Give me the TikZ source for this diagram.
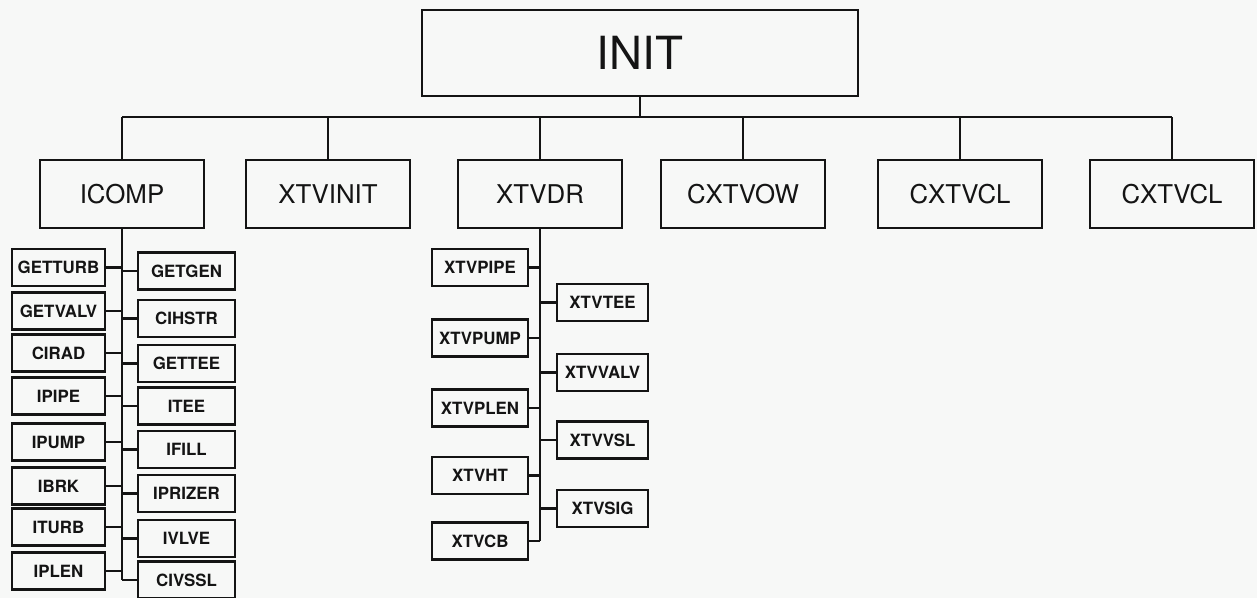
\documentclass[tikz,border=0pt]{standalone}
\usepackage{fontspec}
\setmainfont{TeX Gyre Heros}
\definecolor{chink}{HTML}{141414}
\definecolor{chpaper}{HTML}{F7F8F7}
\tikzset{
  topbox/.style={draw=chink,line width=1.2pt,minimum width=8.72cm,minimum height=1.72cm,
              inner sep=0pt,font=\fontsize{26}{28}\selectfont,text=chink},
  modbox/.style={draw=chink,line width=1.2pt,minimum width=3.28cm,minimum height=1.36cm,
              inner sep=0pt,font=\fontsize{14.7}{16}\selectfont,text=chink},
  subbox/.style={draw=chink,line width=1.2pt,minimum height=0.74cm,
              inner sep=0pt,font=\fontsize{9.6}{11}\selectfont\bfseries,text=chink},
  lcol/.style={subbox,minimum width=1.86cm},
  rcol/.style={subbox,minimum width=1.94cm},
  xlcol/.style={subbox,minimum width=1.92cm},
  xrcol/.style={subbox,minimum width=1.82cm},
  link/.style={draw=chink,line width=1.2pt},
}

\begin{document}
\begin{tikzpicture}[x=0.02cm,y=-0.02cm]
  \path[use as bounding box,fill=chpaper] (0,0) rectangle (1257,598);

  % ================= top level =================
  \node[topbox] (init) at (640,53) {INIT};
  \coordinate (bus) at (0,117);

  \node[modbox] (icomp)   at (122,194)  {ICOMP};
  \node[modbox] (xtvinit) at (328,194)  {XTVINIT};
  \node[modbox] (xtvdr)   at (540,194)  {XTVDR};
  \node[modbox] (cxtvow)  at (743,194)  {CXTVOW};
  \node[modbox] (cxtvcl)  at (960,194)  {CXTVCL};
  \node[modbox] (cxtvclb) at (1172,194) {CXTVCL};

  \draw[link] (init.south) -- (init.south |- bus);
  \draw[link] (icomp.north |- bus) -- (cxtvclb.north |- bus);
  \foreach \m in {icomp,xtvinit,xtvdr,cxtvow,cxtvcl,cxtvclb}
    \draw[link] (\m.north) -- (\m.north |- bus);

  % ================= ICOMP branch =================
  \node[lcol] (getturb) at (58.5,267.5) {GETTURB};
  \node[lcol] (getvalv) at (58.5,311)   {GETVALV};
  \node[lcol] (cirad)   at (58.5,353)   {CIRAD};
  \node[lcol] (ipipe)   at (58.5,396)   {IPIPE};
  \node[lcol] (ipump)   at (58.5,442)   {IPUMP};
  \node[lcol] (ibrk)    at (58.5,486)   {IBRK};
  \node[lcol] (iturb)   at (58.5,527)   {ITURB};
  \node[lcol] (iplen)   at (58.5,571)   {IPLEN};

  \node[rcol] (getgen)  at (186.5,271)  {GETGEN};
  \node[rcol] (cihstr)  at (186.5,318.5){CIHSTR};
  \node[rcol] (gettee)  at (186.5,363.5){GETTEE};
  \node[rcol] (itee)    at (186.5,406)  {ITEE};
  \node[rcol] (ifill)   at (186.5,449.5){IFILL};
  \node[rcol] (iprizer) at (186.5,493.5){IPRIZER};
  \node[rcol] (ivlve)   at (186.5,538.5){IVLVE};
  \node[rcol] (civssl)  at (186.5,580)  {CIVSSL};

  \draw[link] (icomp.south) -- (icomp.south |- civssl);
  \foreach \s in {getturb,getvalv,cirad,ipipe,ipump,ibrk,iturb,iplen}
    \draw[link] (\s.east) -- (\s.east -| icomp.south);
  \foreach \s in {getgen,cihstr,gettee,itee,ifill,iprizer,ivlve,civssl}
    \draw[link] (\s.west) -- (\s.west -| icomp.south);

  % ================= XTVDR branch =================
  \node[xlcol] (xtvpipe) at (480,267.5) {XTVPIPE};
  \node[xlcol] (xtvpump) at (480,338)   {XTVPUMP};
  \node[xlcol] (xtvplen) at (480,408)   {XTVPLEN};
  \node[xlcol] (xtvht)   at (480,475.5) {XTVHT};
  \node[xlcol] (xtvcb)   at (480,541)   {XTVCB};

  \node[xrcol] (xtvtee)  at (602.5,302.5) {XTVTEE};
  \node[xrcol] (xtvvalv) at (602.5,372.5) {XTVVALV};
  \node[xrcol] (xtvvsl)  at (602.5,440)   {XTVVSL};
  \node[xrcol] (xtvsig)  at (602.5,508.5) {XTVSIG};

  \draw[link] (xtvdr.south) -- (xtvdr.south |- xtvcb);
  \foreach \s in {xtvpipe,xtvpump,xtvplen,xtvht,xtvcb}
    \draw[link] (\s.east) -- (\s.east -| xtvdr.south);
  \foreach \s in {xtvtee,xtvvalv,xtvvsl,xtvsig}
    \draw[link] (\s.west) -- (\s.west -| xtvdr.south);
\end{tikzpicture}
\end{document}
